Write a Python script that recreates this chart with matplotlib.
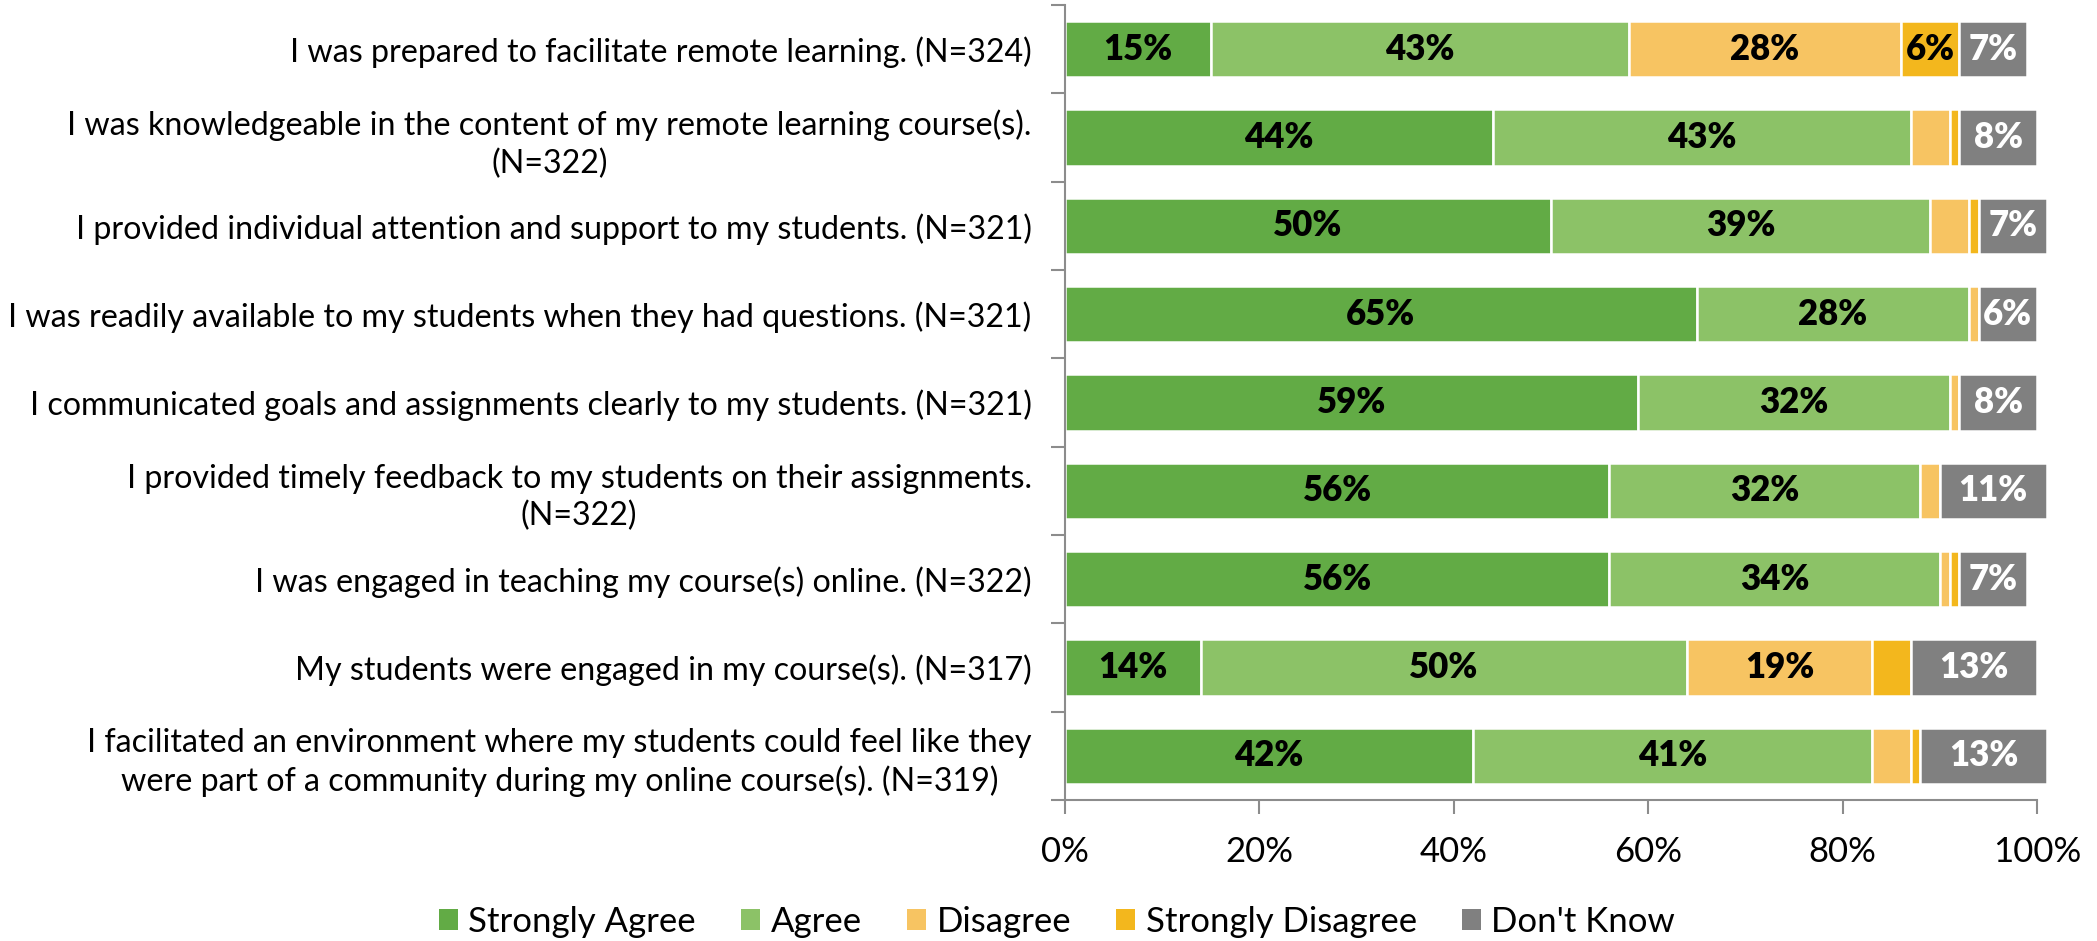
import matplotlib
matplotlib.use("Agg")
import matplotlib.pyplot as plt
import numpy as np

plt.rcParams['font.family'] = ['Lato', 'DejaVu Sans']

categories = [
    "I was prepared to facilitate remote learning. (N=324)",
    "I was knowledgeable in the content of my remote learning course(s).\n(N=322)",
    "I provided individual attention and support to my students. (N=321)",
    "I was readily available to my students when they had questions. (N=321)",
    "I communicated goals and assignments clearly to my students. (N=321)",
    "I provided timely feedback to my students on their assignments.\n(N=322)",
    "I was engaged in teaching my course(s) online. (N=322)",
    "My students were engaged in my course(s). (N=317)",
    "I facilitated an environment where my students could feel like they\nwere part of a community during my online course(s). (N=319)",
]

series_names = ["Strongly Agree", "Agree", "Disagree", "Strongly Disagree", "Don't Know"]
strongly_agree = [15, 44, 50, 65, 59, 56, 56, 14, 42]
agree = [43, 43, 39, 28, 32, 32, 34, 50, 41]
disagree = [28, 4, 4, 1, 1, 2, 1, 19, 4]
strongly_disagree = [6, 1, 1, 0, 0, 0, 1, 4, 1]
dont_know = [7, 8, 7, 6, 8, 11, 7, 13, 13]

colors = ["#62AB45", "#8CC267", "#F7C462", "#F3B71D", "#808080"]
text_colors = ["black", "black", "black", "black", "white"]
xticks = [0, 20, 40, 60, 80, 100]
xtick_labels = ["0%", "20%", "40%", "60%", "80%", "100%"]

W, H = 2097, 941
fig = plt.figure(figsize=(W / 100, H / 100), dpi=100)
ax = fig.add_axes([1065 / W, 1 - 800 / H, (2037 - 1065) / W, (800 - 5) / H])

y = np.arange(len(categories))
data = [strongly_agree, agree, disagree, strongly_disagree, dont_know]
left = np.zeros(len(categories))
for vals, name, col, tcol in zip(data, series_names, colors, text_colors):
    vals = np.array(vals, dtype=float)
    ax.barh(y, vals, left=left, height=0.64, color=col, edgecolor="white",
            linewidth=1.8, label=name, clip_on=False)
    for yi, l, v in zip(y, left, vals):
        if v >= 5:
            ax.text(l + v / 2, yi, f"{int(v)}%", ha="center", va="center",
                    fontsize=25, fontweight="heavy", color=tcol)
    left += vals

ax.set_xlim(0, 100)
ax.set_ylim(len(categories) - 0.5, -0.5)
ax.set_xticks(xticks)
ax.set_xticklabels(xtick_labels, fontsize=25)
ax.set_yticks(y)
ax.set_yticklabels(categories, fontsize=23.2, multialignment="center", linespacing=1.3)
ax.set_yticks(np.arange(-0.5, len(categories), 1.0), minor=True)

spine_col = "#8C8C8C"
for s in ["top", "right"]:
    ax.spines[s].set_visible(False)
for s in ["left", "bottom"]:
    ax.spines[s].set_color(spine_col)
    ax.spines[s].set_linewidth(1.5)
ax.tick_params(axis="y", which="major", length=0, pad=24)
ax.tick_params(axis="y", which="minor", length=10, width=1.5, color=spine_col)
ax.tick_params(axis="x", which="major", length=10, width=1.5, color=spine_col, pad=16)

handles, labels = ax.get_legend_handles_labels()
leg = fig.legend(handles, labels, loc="center", bbox_to_anchor=(1057 / W, 1 - 922 / H),
                 ncol=5, frameon=False, fontsize=25, handlelength=0.55, handleheight=0.55,
                 handletextpad=0.3, columnspacing=1.3, borderaxespad=0)
for h in leg.legend_handles:
    h.set_edgecolor("none")

fig.savefig("out.png", dpi=100, facecolor="white")
